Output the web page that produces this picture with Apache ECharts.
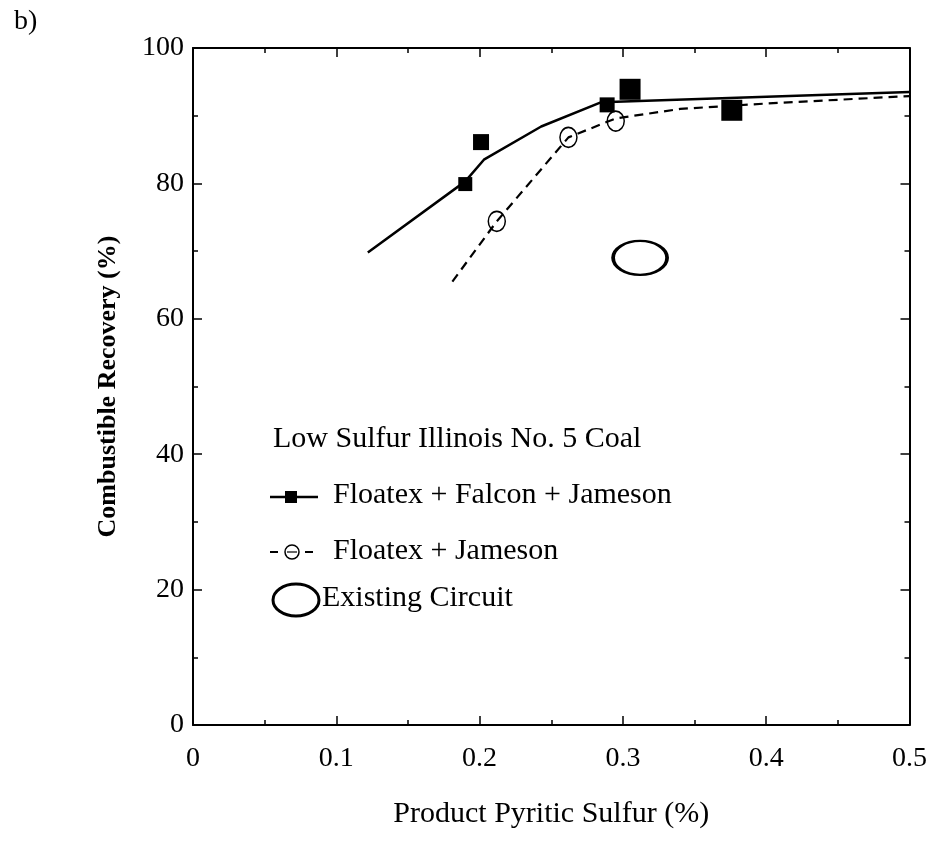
<!DOCTYPE html>
<html>
<head>
<meta charset="utf-8">
<script src="https://cdn.jsdelivr.net/npm/echarts@6/dist/echarts.min.js"></script>
<style>
html,body{margin:0;padding:0;background:#fff;}
#chart{width:930px;height:846px;}
</style>
</head>
<body>
<div id="chart"></div>
<script>
// ---- Data ----
var solidLineX = [0.122, 0.19, 0.203, 0.243, 0.285, 0.50];
var solidLineY = [69.8, 80.3, 83.5, 88.4, 92.0, 93.5];
var dashedLineX = [0.181, 0.212, 0.262, 0.295, 0.34, 0.40, 0.50];
var dashedLineY = [65.5, 74.4, 86.8, 89.6, 91.0, 91.8, 92.9];
var squareX = [0.190, 0.201, 0.289, 0.305, 0.376];
var squareY = [79.9, 86.1, 91.6, 93.9, 90.8];
var circleX = [0.212, 0.262, 0.295];
var circleY = [74.4, 86.8, 89.2];
var existingX = [0.312];
var existingY = [69.0];
var xTicks = [0, 0.1, 0.2, 0.3, 0.4, 0.5];
var yTicks = [0, 20, 40, 60, 80, 100];

function pairs(xs, ys){ return xs.map(function(x,i){ return [x, ys[i]]; }); }

// style-only config
var squareSizes = [14, 16, 15, 21, 21];
var FONT = 'Liberation Serif';

var chart = echarts.init(document.getElementById('chart'), null, {renderer:'canvas'});

function axisBase(){
  return {
    type:'value',
    axisLine:{show:true, onZero:false, lineStyle:{color:'#000', width:2}},
    splitLine:{show:false},
    axisTick:{show:true, inside:true, length:9, lineStyle:{color:'#000', width:1.5}},
    minorTick:{show:true, splitNumber:2, length:5, lineStyle:{color:'#000', width:1.5}}
  };
}

var option = {
  backgroundColor:'#fff',
  animation:false,
  grid:{left:193, right:20, top:48, bottom:121, containLabel:false},
  xAxis:[
    Object.assign(axisBase(), {
      min:xTicks[0], max:xTicks[xTicks.length-1], interval:0.1, position:'bottom',
      axisLabel:{show:true, margin:20, color:'#000', fontFamily:FONT, fontSize:28,
        formatter:function(v){ var r = Math.round(v*10)/10; return xTicks.indexOf(r) >= 0 ? String(r) : ''; }},
      name:'Product Pyritic Sulfur (%)', nameLocation:'middle', nameGap:74,
      nameTextStyle:{color:'#000', fontFamily:FONT, fontSize:30}
    }),
    Object.assign(axisBase(), {
      min:xTicks[0], max:xTicks[xTicks.length-1], interval:0.1, position:'top',
      axisLabel:{show:false}
    })
  ],
  yAxis:[
    Object.assign(axisBase(), {
      min:yTicks[0], max:yTicks[yTicks.length-1], interval:20, position:'left',
      axisLabel:{show:true, margin:9, color:'#000', fontFamily:FONT, fontSize:28},
      name:'Combustible Recovery (%)', nameLocation:'middle', nameGap:72, nameRotate:90,
      nameTextStyle:{color:'#000', fontFamily:FONT, fontSize:26, fontWeight:'bold'}
    }),
    Object.assign(axisBase(), {
      min:yTicks[0], max:yTicks[yTicks.length-1], interval:20, position:'right',
      axisLabel:{show:false}
    })
  ],
  series:[
    {type:'line', data:pairs(solidLineX, solidLineY), showSymbol:false, symbol:'none',
     lineStyle:{color:'#000', width:2.5}, z:2},
    {type:'line', data:pairs(dashedLineX, dashedLineY), showSymbol:false, symbol:'none',
     lineStyle:{color:'#000', width:2.2, type:[9,6]}, z:2},
    {type:'scatter', data:pairs(squareX, squareY), symbol:'rect',
     symbolSize:function(v, p){ return squareSizes[p.dataIndex]; },
     itemStyle:{color:'#000', opacity:1}, z:4},
    {type:'scatter', data:pairs(circleX, circleY), symbol:'circle', symbolSize:[17,20],
     itemStyle:{color:'rgba(0,0,0,0)', borderColor:'#000', borderWidth:1.6, opacity:1}, z:3},
    {type:'scatter', data:pairs(existingX, existingY), symbol:'circle', symbolSize:[54,34],
     itemStyle:{color:'rgba(0,0,0,0)', borderColor:'#000', borderWidth:3, opacity:1}, z:3}
  ],
  graphic:[
    {type:'text', left:14, top:8, style:{text:'b)', font:'28px "Liberation Serif"', fill:'#000'}},
    {type:'text', left:273, top:424, style:{text:'Low Sulfur Illinois No. 5 Coal', font:'30px "Liberation Serif"', fill:'#000'}},
    // row 2
    {type:'line', shape:{x1:270, y1:497, x2:318, y2:497}, style:{stroke:'#000', lineWidth:2.5}},
    {type:'rect', shape:{x:285, y:491, width:12, height:12}, style:{fill:'#000'}},
    {type:'text', left:333, top:480, style:{text:'Floatex + Falcon + Jameson', font:'30px "Liberation Serif"', fill:'#000'}},
    // row 3
    {type:'line', shape:{x1:270, y1:552, x2:278, y2:552}, style:{stroke:'#000', lineWidth:2}},
    {type:'line', shape:{x1:305, y1:552, x2:313, y2:552}, style:{stroke:'#000', lineWidth:2}},
    {type:'circle', shape:{cx:292, cy:552, r:7}, style:{fill:'none', stroke:'#000', lineWidth:1.5}},
    {type:'line', shape:{x1:287, y1:552, x2:297, y2:552}, style:{stroke:'#000', lineWidth:1.2}},
    {type:'text', left:333, top:536, style:{text:'Floatex + Jameson', font:'30px "Liberation Serif"', fill:'#000'}},
    // row 4
    {type:'ellipse', shape:{cx:296, cy:600, rx:23, ry:16}, style:{fill:'none', stroke:'#000', lineWidth:3}},
    {type:'text', left:322, top:583, style:{text:'Existing Circuit', font:'30px "Liberation Serif"', fill:'#000'}}
  ]
};
chart.setOption(option);
</script>
</body>
</html>
